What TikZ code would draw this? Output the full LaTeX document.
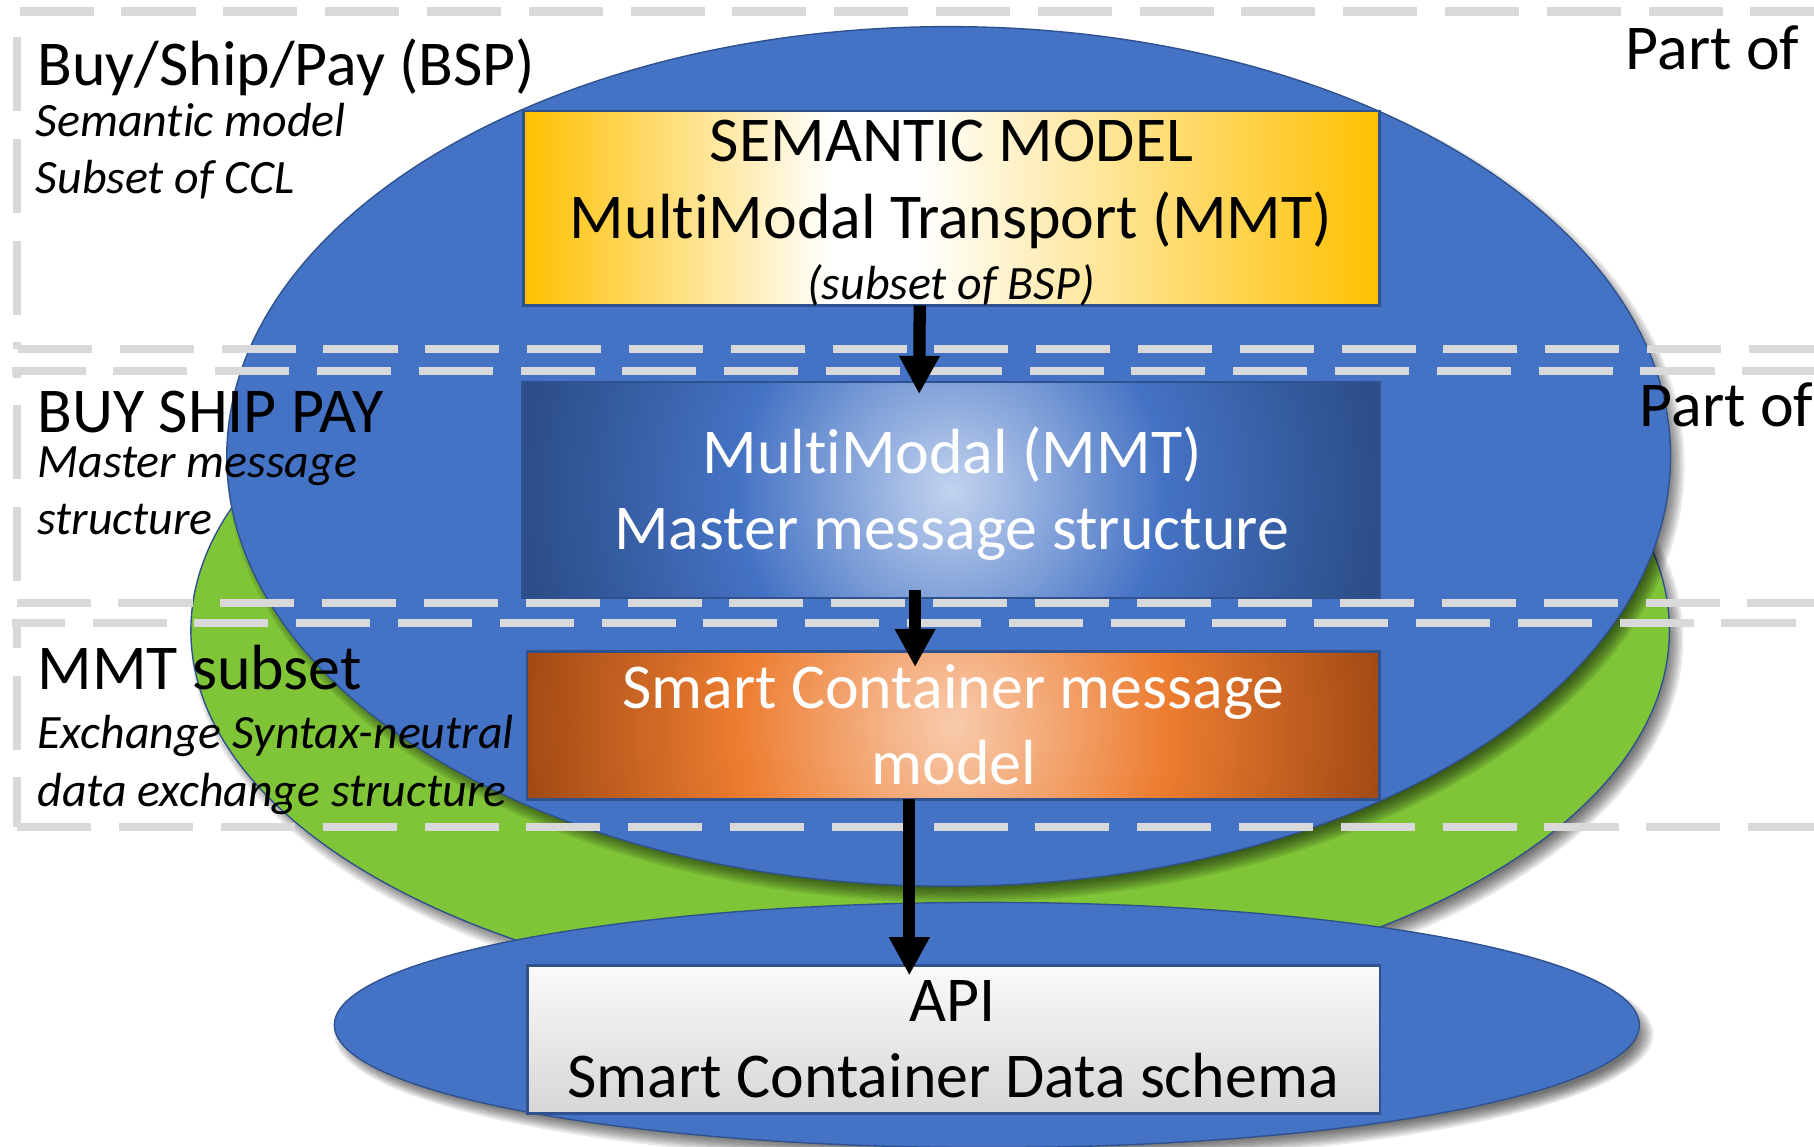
\documentclass[tikz,border=0pt]{standalone}
\usepackage{fontspec}
\setmainfont{Carlito}[Ligatures=NoCommon]
\usetikzlibrary{arrows.meta,shapes.geometric}

\definecolor{ellblue}{HTML}{4472C4}
\definecolor{edgeblue}{HTML}{2F528F}
\definecolor{ellgreen}{HTML}{80C438}
\definecolor{gold}{HTML}{FFC000}
\definecolor{dashgray}{HTML}{D9D9D9}
\definecolor{bin}{HTML}{C3D3EF}
\definecolor{bmid}{HTML}{4472C4}
\definecolor{bout}{HTML}{2C4D88}
\definecolor{oin}{HTML}{F8CBAD}
\definecolor{omid}{HTML}{ED7D31}
\definecolor{oout}{HTML}{A34A14}
\definecolor{apitop}{HTML}{FAFAFA}
\definecolor{apibot}{HTML}{D6D6D6}

\pgfdeclarehorizontalshading{goldsh}{100bp}{color(0bp)=(gold); color(25bp)=(gold); color(43bp)=(white); color(48bp)=(white); color(75bp)=(gold); color(100bp)=(gold)}
\pgfdeclareradialshading{bluesh}{\pgfpoint{0bp}{0bp}}{color(0bp)=(bin); color(12.5bp)=(bmid); color(25bp)=(bout); color(50bp)=(bout)}
\pgfdeclareradialshading{orangesh}{\pgfpoint{0bp}{0bp}}{color(0bp)=(oin); color(12.5bp)=(omid); color(25bp)=(oout); color(50bp)=(oout)}

\tikzset{
  ell/.style={ellipse, fill=ellblue, draw=edgeblue, line width=0.6pt, inner sep=0pt, outer sep=0pt},
  box/.style={rectangle, draw=edgeblue, line width=1.1pt, inner sep=0pt, outer sep=0pt},
  big/.style={inner sep=0pt, font=\fontsize{27.6pt}{33pt}\selectfont},
  small/.style={inner sep=0pt, font=\fontsize{20.7pt}{25pt}\selectfont\itshape},
  dashline/.style={draw=dashgray, line width=3.6pt, dash pattern=on 32pt off 12pt},
  arr/.style={line width=5.3pt, -{Triangle[length=16.5pt,width=16.5pt]}},
}

\newcommand\ellshadow[4]{%
  \foreach \d in {-8,-6,...,6} {
    \fill[black, opacity=0.09] (#1+6,#2+8) ellipse [x radius={(#3+\d)*0.5pt}, y radius={(#4+\d)*0.5pt}];
  }%
}

\begin{document}
\begin{tikzpicture}[x=0.5pt, y=-0.5pt]
\useasboundingbox (0,0) rectangle (1568,991);
\fill[white] (0,0) rectangle (1568,991);
\clip (0,0) rectangle (1568,991);

% ellipses
\ellshadow{804}{545}{639}{323}
\node[ell, fill=ellgreen, minimum width=639pt, minimum height=323pt] (green) at (804,545) {};
\ellshadow{853}{886}{564}{106}
\node[ell, minimum width=564pt, minimum height=106pt] (apiell) at (853,886) {};
\ellshadow{820}{394.5}{624}{371.5}
\node[ell, minimum width=624pt, minimum height=371.5pt] (bspell) at (820,394.5) {};

% dashed layer frames
\draw[dashline] (17,10) -- (1600,10);
\draw[dashline, dash phase=33pt] (14.5,10) -- (14.5,301.4);
\draw[dashline] (15.6,301.4) -- (1600,301.4);
\draw[dashline] (10,320.4) -- (1600,320.4);
\draw[dashline, dash phase=29pt] (14.5,320.4) -- (14.5,521);
\draw[dashline] (14.4,521) -- (1600,521);
\draw[dashline, dash phase=9.3pt] (10.6,538.6) -- (1600,538.6);
\draw[dashline, dash phase=21.3pt] (14.5,538.6) -- (14.5,715);
\draw[dashline] (15,715) -- (1600,715);

% boxes
\node[box, shade, shading=goldsh, minimum width=370pt, minimum height=84pt] (sem) at (822.5,180) {};
\node[box, fill=bout, minimum width=370.5pt, minimum height=93.5pt,
  path picture={\shade[shading=bluesh] (path picture bounding box.center) circle [radius=185pt];}] (mm) at (822,423.5) {};
\node[box, fill=oout, minimum width=368.5pt, minimum height=64pt,
  path picture={\shade[shading=orangesh] (path picture bounding box.center) circle [radius=185pt];}] (sc) at (824,627) {};
\node[box, top color=apitop, bottom color=apibot, minimum width=368.5pt, minimum height=64pt] (api) at (824.5,898.5) {};

% box texts
\node[big, anchor=base] (semA) at (822.5,140) {SEMANTIC MODEL};
\node[big, anchor=base] (semB) at (822,206) {MultiModal Transport (MMT)};
\node[small, anchor=base] (semC) at (822,259) {(subset of BSP)};
\node[big, anchor=base, text=white] (mmA) at (823,409) {MultiModal (MMT)};
\node[big, anchor=base, text=white] (mmB) at (822.5,475) {Master message structure};
\node[big, anchor=base, text=white] (scA) at (824,612) {Smart Container message};
\node[big, anchor=base, text=white] (scB) at (824.5,678) {model};
\node[big, anchor=base] (apiA) at (823.5,883) {API};
\node[big, anchor=base] (apiB) at (824,949) {Smart Container Data schema};

% side labels
\node[big, anchor=base west] (lbsp) at (32,74) {Buy/Ship/Pay (BSP)};
\node[small, anchor=base west] (lsem) at (30.5,118) {Semantic model};
\node[small, anchor=base west] (lccl) at (30.5,167) {Subset of CCL};
\node[big, anchor=base west] (lpartA) at (1405,60.5) {Part of};
\node[big, anchor=base west] (lbuy) at (32,374) {BUY SHIP PAY};
\node[small, anchor=base west] (lmas) at (32,413) {Master message};
\node[small, anchor=base west] (lstr) at (32,462) {structure};
\node[big, anchor=base west] (lpartB) at (1417,369) {Part of};
\node[big, anchor=base west] (lmmt) at (32,596) {MMT subset};
\node[small, anchor=base west] (lexc) at (32,647) {Exchange Syntax-neutral};
\node[small, anchor=base west] (ldat) at (32,697) {data exchange structure};

% arrows
\draw[arr] ([xshift=-13.75pt]sem.south) -- ([xshift=-13.75pt,yshift=-5.3pt]mm.north);
\draw[arr] ([xshift=-15.5pt,yshift=3.5pt]mm.south) -- ([xshift=-16.5pt,yshift=-6.8pt]sc.north);
\draw[arr] ([xshift=-19pt]sc.south) -- ([xshift=-19.25pt,yshift=-4.3pt]api.north);
\end{tikzpicture}
\end{document}
